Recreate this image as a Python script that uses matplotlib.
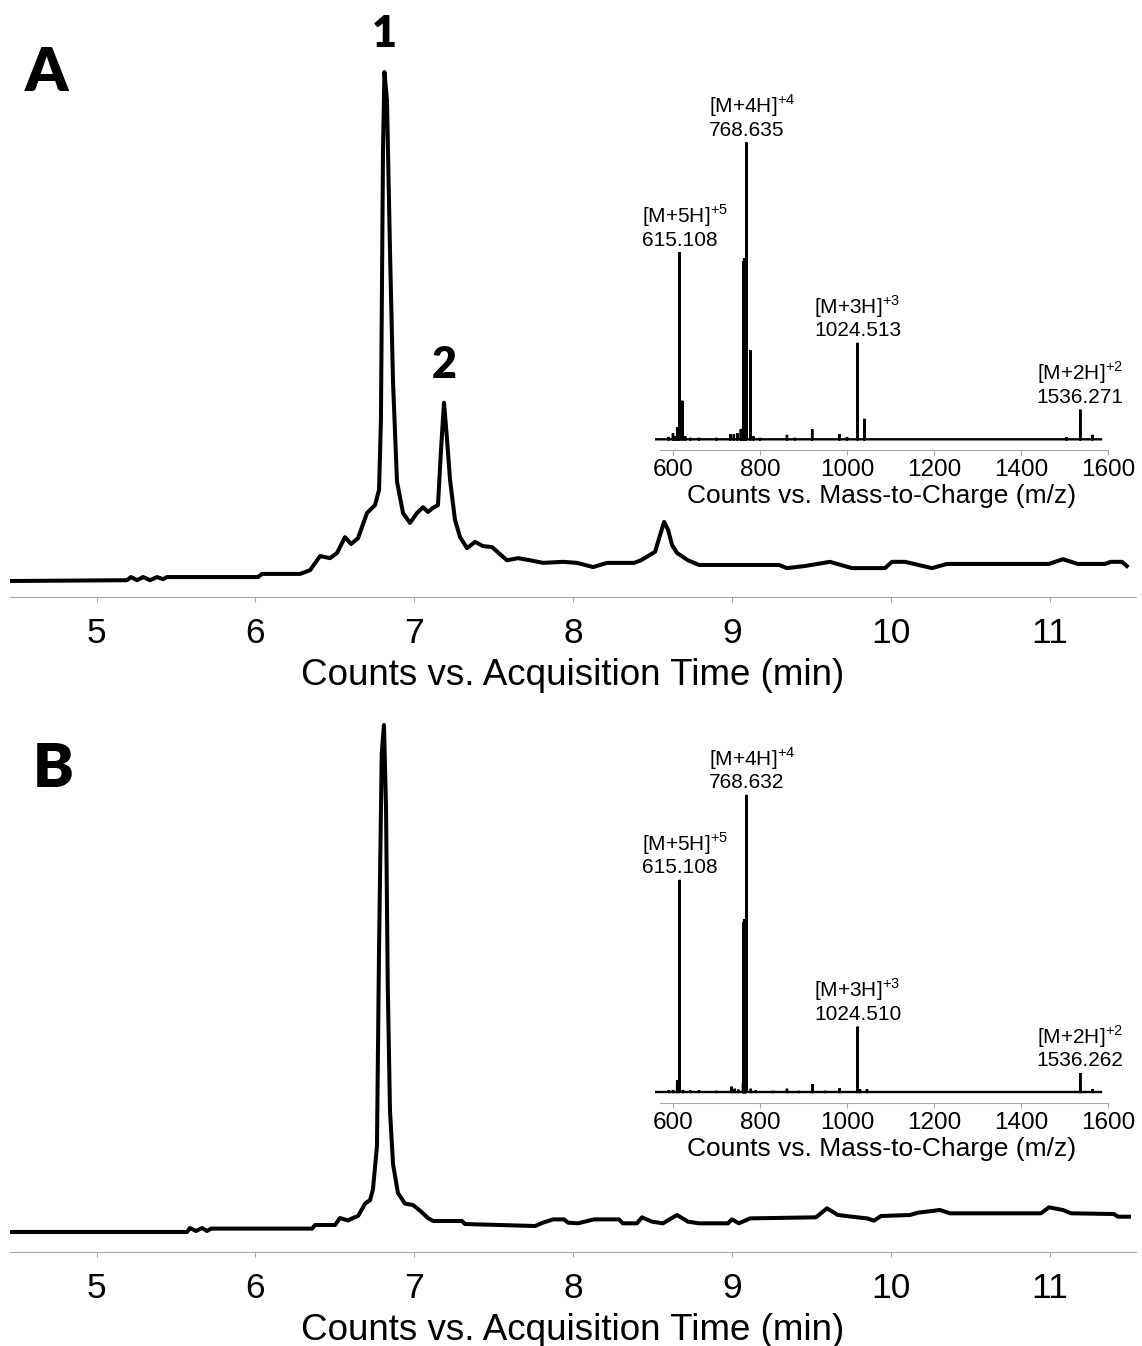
import numpy as np
import matplotlib
matplotlib.use("Agg")
import matplotlib.pyplot as plt

plt.rcParams['font.family'] = ['Liberation Sans', 'DejaVu Sans']

# ── Chromatogram A (time in min, relative intensity) ─────────────────────────
time_A = [4.468, 5.192, 5.217, 5.255, 5.293, 5.337, 5.381, 5.418, 5.444, 6.016,
          6.042, 6.281, 6.344, 6.407, 6.470, 6.514, 6.564, 6.602, 6.646, 6.702,
          6.753, 6.778, 6.790, 6.803, 6.812, 6.828, 6.847, 6.866, 6.891, 6.929,
          6.973, 7.017, 7.055, 7.086, 7.118, 7.149, 7.168, 7.187, 7.206, 7.225,
          7.256, 7.288, 7.332, 7.382, 7.432, 7.489, 7.583, 7.653, 7.728, 7.810,
          7.936, 8.024, 8.125, 8.213, 8.383, 8.427, 8.515, 8.547, 8.572, 8.597,
          8.622, 8.653, 8.722, 8.792, 9.295, 9.345, 9.458, 9.616, 9.754, 9.962,
          10.006, 10.088, 10.258, 10.352, 10.994, 11.082, 11.176, 11.346, 11.384,
          11.453, 11.484]
signal_A = [3.05, 3.2, 3.8, 3.2, 3.8, 3.2, 3.8, 3.4, 3.8, 3.8,
            4.4, 4.4, 5.1, 7.8, 7.4, 8.4, 11.4, 10.1, 11.2, 16.0,
            17.5, 20.4, 33.7, 85.0, 100.0, 94.7, 66.0, 41.0, 22.0, 16.0,
            14.1, 16.0, 17.1, 16.2, 17.0, 17.5, 28.0, 37.0, 30.0, 22.3,
            14.7, 11.4, 9.3, 10.5, 9.7, 9.5, 7.0, 7.4, 7.0, 6.5,
            6.7, 6.5, 5.7, 6.5, 6.5, 7.0, 8.6, 11.8, 14.3, 12.8,
            9.9, 8.4, 7.0, 6.1, 6.1, 5.5, 5.9, 6.7, 5.5, 5.5,
            6.7, 6.7, 5.5, 6.3, 6.3, 7.2, 6.3, 6.3, 6.7,
            6.7, 5.9]
peak_numbers_A = ["1", "2"]
peak_times_A = [6.812, 7.187]

# ── Chromatogram B ───────────────────────────────────────────────────────────
time_B = [4.456, 5.570, 5.588, 5.626, 5.664, 5.695, 5.721, 6.357, 6.375, 6.501,
          6.532, 6.583, 6.614, 6.646, 6.690, 6.722, 6.740, 6.765, 6.778, 6.795,
          6.809, 6.822, 6.833, 6.847, 6.866, 6.897, 6.941, 6.992, 7.036, 7.086,
          7.118, 7.300, 7.319, 7.760, 7.810, 7.873, 7.942, 7.967, 8.030, 8.131,
          8.288, 8.313, 8.401, 8.433, 8.496, 8.565, 8.653, 8.722, 8.791, 8.974,
          8.999, 9.043, 9.113, 9.528, 9.597, 9.666, 9.754, 9.849, 9.893, 9.937,
          10.119, 10.170, 10.308, 10.371, 10.944, 10.994, 11.082, 11.133, 11.403,
          11.428, 11.498]
signal_B = [3.80, 3.80, 4.55, 3.99, 4.55, 3.99, 4.44, 4.44, 5.12, 5.12,
            6.45, 5.98, 6.45, 6.83, 9.18, 9.87, 11.95, 20.1, 57.3, 94.6,
            100.0, 84.4, 50.5, 26.8, 16.7, 11.2, 9.18, 8.92, 7.84, 6.45,
            5.88, 5.88, 5.31, 4.93, 5.57, 6.19, 6.19, 5.57, 5.44, 6.19,
            6.19, 5.44, 5.44, 6.58, 5.76, 5.44, 7.02, 5.76, 5.44, 5.44,
            6.19, 5.44, 6.38, 6.58, 8.29, 7.02, 6.70, 6.38, 5.95, 6.83,
            7.02, 7.46, 7.97, 7.34, 7.34, 8.48, 7.97, 7.34, 7.21,
            6.70, 6.70]

time_ticks = [5, 6, 7, 8, 9, 10, 11]

# ── Mass spectra (m/z, relative abundance) ───────────────────────────────────
mz_A = [590, 600, 605, 609.6, 615.108, 621.6, 628, 640, 660, 700,
        732, 740, 748, 756, 761, 762, 763.5, 765, 766.5, 768.635,
        778, 785, 800, 862, 880, 920, 983, 1000, 1024.513, 1040,
        1505, 1536.271, 1564]
abund_A = [0.8, 2.0, 1.0, 4.0, 63.0, 13.0, 1.0, 0.5, 0.5, 0.5,
           1.7, 1.7, 2.0, 3.4, 4.0, 60.0, 61.0, 61.0, 57.0, 100.0,
           30.0, 1.0, 0.5, 1.5, 0.5, 3.4, 1.7, 0.8, 32.5, 6.9,
           0.8, 10.0, 1.5]

mz_B = [590, 600, 609.6, 615.108, 623, 640, 660, 700, 735, 742,
        750, 761, 762, 763.5, 765, 766.5, 768.632, 779, 790, 830,
        862, 890, 921, 950, 983, 1024.510, 1030, 1046, 1536.262, 1565]
abund_B = [0.5, 0.7, 4.0, 71.4, 0.7, 0.5, 0.5, 0.4, 1.8, 1.1,
           0.8, 3.1, 57.0, 58.0, 58.0, 55.0, 100.0, 1.1, 0.5, 0.4,
           1.1, 0.4, 2.6, 0.4, 1.2, 22.0, 1.0, 1.0, 6.4, 1.0]

ion_names = ["[M+5H]", "[M+4H]", "[M+3H]", "[M+2H]"]
ion_charges = ["+5", "+4", "+3", "+2"]
ion_mz_A = [615.108, 768.635, 1024.513, 1536.271]
ion_mz_B = [615.108, 768.632, 1024.510, 1536.262]

mz_ticks = [600, 800, 1000, 1200, 1400, 1600]

# ── Layout (pixel boxes) ─────────────────────────────────────────────────────
W, H = 1142, 1346
GRAY = "#a8a8a8"


def box(x0, y_top, x1, y_bot):
    return [x0 / W, 1 - y_bot / H, (x1 - x0) / W, (y_bot - y_top) / H]


def style_axis(ax, ticks, fs, pad, tick_len):
    for side in ("left", "right", "top"):
        ax.spines[side].set_visible(False)
    ax.spines["bottom"].set_color(GRAY)
    ax.spines["bottom"].set_linewidth(0.8)
    ax.set_yticks([])
    ax.set_xticks(ticks)
    ax.tick_params(axis="x", direction="out", length=tick_len, width=0.8,
                   color=GRAY, labelsize=fs, pad=pad, labelcolor="black")
    ax.patch.set_alpha(0)


def chromatogram(ax, t, s, ylim_top):
    ax.plot(t, s, color="black", lw=2.9, solid_joinstyle="round")
    ax.set_xlim(4.453, 11.542)
    ax.set_ylim(0, ylim_top)
    style_axis(ax, time_ticks, 25.5, 10.5, 3.6)
    ax.set_xlabel("Counts vs. Acquisition Time (min)", fontsize=26.5, labelpad=6)


def spectrum(ax, mz, ab, names, charges, label_mz, ylim):
    lo, hi = 560, 1584
    xs, ys = [lo], [0.0]
    for m, a in sorted(zip(mz, ab)):
        xs += [m - 0.4, m, m + 0.4]
        ys += [0.0, a, 0.0]
    xs.append(hi)
    ys.append(0.0)
    ax.plot(xs, ys, color="black", lw=1.7, solid_joinstyle="miter")
    ax.set_xlim(558, 1600)
    ax.set_ylim(*ylim)
    ax.spines["bottom"].set_bounds(571, 1600)
    style_axis(ax, mz_ticks, 17.5, 3.0, 3.6)
    ax.set_xlabel("Counts vs. Mass-to-Charge (m/z)", fontsize=19, labelpad=2)

    lookup = dict(zip(mz, ab))
    for name, z, m in zip(names, charges, label_mz):
        num = ax.annotate(f"{m:.3f}", xy=(m, lookup[m]), xytext=(0, 2),
                          textcoords="offset points", ha="center", va="bottom",
                          fontsize=15)
        ax.annotate(name + r"$^{\mathregular{" + z + "}}$", xy=(0, 1), xycoords=num,
                    xytext=(0, 1), textcoords="offset points",
                    ha="left", va="bottom", fontsize=15)


fig = plt.figure(figsize=(W / 100, H / 100), dpi=100)

# panel A
axA = fig.add_axes(box(9.6, 60, 1136, 597))
chromatogram(axA, time_A, signal_A, 102.3)
for lab, tp in zip(peak_numbers_A, peak_times_A):
    axA.annotate(lab, xy=(tp, np.interp(tp, time_A, signal_A)), xytext=(0, 18),
                 textcoords="offset points", ha="center", va="baseline",
                 fontsize=31, fontweight="heavy", family="Lato")

insA = fig.add_axes(box(654.7, 130, 1108, 450))
spectrum(insA, mz_A, abund_A, ion_names, ion_charges, ion_mz_A, (-3.6, 104.2))

# panel B
axB = fig.add_axes(box(9.6, 715, 1136, 1252))
chromatogram(axB, time_B, signal_B, 101.9)

insB = fig.add_axes(box(654.7, 780, 1108, 1103))
spectrum(insB, mz_B, abund_B, ion_names, ion_charges, ion_mz_B, (-3.7, 105.0))

fig.text(25 / W, 1 - 91 / H, "A", fontsize=44, fontweight="heavy", family="Lato",
         ha="left", va="baseline")
fig.text(33 / W, 1 - 787 / H, "B", fontsize=44, fontweight="heavy", family="Lato",
         ha="left", va="baseline")

fig.savefig("out.png", dpi=100)
